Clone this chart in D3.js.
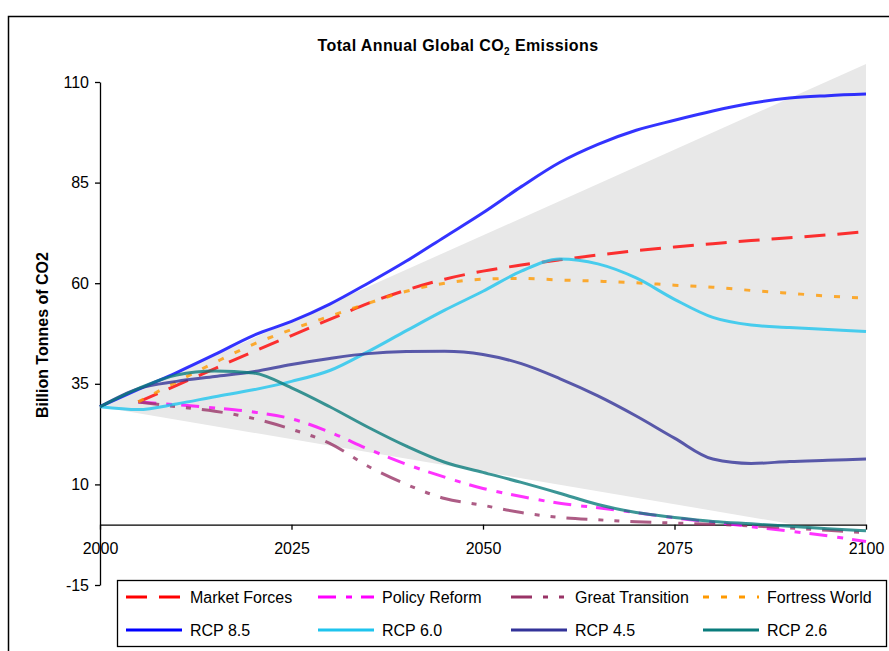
<!DOCTYPE html>
<html>
<head>
<meta charset="utf-8">
<script src="https://cdn.jsdelivr.net/npm/d3@7"></script>
<style>
  body { margin: 0; background: #fff; }
  svg { display: block; font-family: Arial, "Liberation Sans", sans-serif; }
</style>
</head>
<body>
<svg id="chart"></svg>
<script>
// years for the RCP curves and for the scenario curves
let rcpYears = d3.range(2000, 2101, 5);
let scenarioYears = d3.range(2005, 2101, 5);

// RCP pathways (billion tonnes CO2)
let rcp85 = [29.3, 33.6, 37.8, 42.3, 47, 50.5, 54.8, 60, 65.5, 71.5, 77.5, 84, 90, 94.5, 98, 100.5, 102.8, 104.7, 106, 106.6, 107];
let rcp60 = [29.3, 28.6, 30, 31.8, 33.5, 35.6, 38.3, 43, 48.2, 53.3, 58, 63, 66, 64.8, 61.3, 56, 51.5, 49.6, 49, 48.5, 48];
let rcp45 = [29.3, 33.8, 35.6, 36.8, 38, 39.8, 41.3, 42.5, 43, 43.1, 42.3, 40, 36.3, 32, 27, 21.5, 16.3, 15.2, 15.7, 16, 16.3];
let rcp26 = [29.3, 33.8, 37.2, 38.2, 37.7, 34, 29.3, 24.2, 19.5, 15.5, 13, 10.5, 7.8, 5, 3, 1.8, 0.8, 0.2, -0.4, -1, -1.5];

// scenarios
let marketForces = [30.5, 34.6, 38.8, 43, 47, 51, 55, 58.3, 61, 63, 64.5, 65.8, 67, 68.1, 69, 69.8, 70.6, 71.3, 72, 72.8];
let policyReform = [30.5, 29.8, 29, 28, 26.3, 23, 18.8, 15, 11.8, 9, 7, 5.3, 4.2, 3, 1.7, 0.6, -0.5, -1.6, -2.8, -4.2];
let greatTransition = [30.5, 29.3, 28.2, 26.4, 23.7, 20.2, 14.5, 10, 6.5, 4.8, 3, 1.8, 1.2, 0.7, 0.4, 0.1, -0.3, -0.8, -1.4, -2];
let fortressWorld = [30.5, 35.5, 40.3, 44.8, 48.5, 51.8, 55, 58, 60, 61, 61.2, 60.8, 60.5, 60.1, 59.5, 59, 58.2, 57.5, 56.8, 56.3];

// grey uncertainty wedge
let wedgeYears = [2000, 2100];
let wedgeUpper = [29.3, 114.5];
let wedgeLower = [29.3, -3];

let yTicks = [-15, 10, 35, 60, 85, 110];
let xTicks = [2000, 2025, 2050, 2075, 2100];

let width = 889;
let height = 651;

let series = [
  { name: 'Market Forces', years: scenarioYears, values: marketForces, color: '#ff0000', dash: '21,12' },
  { name: 'Policy Reform', years: scenarioYears, values: policyReform, color: '#ff00ff', dash: '18,10,6,9' },
  { name: 'Great Transition', years: scenarioYears, values: greatTransition, color: '#993366', dash: '21,11,5,11,5,11' },
  { name: 'Fortress World', years: scenarioYears, values: fortressWorld, color: '#ff9900', dash: '6,12' },
  { name: 'RCP 8.5', years: rcpYears, values: rcp85, color: '#0000ff', dash: null },
  { name: 'RCP 6.0', years: rcpYears, values: rcp60, color: '#1ec4ee', dash: null },
  { name: 'RCP 4.5', years: rcpYears, values: rcp45, color: '#333399', dash: null },
  { name: 'RCP 2.6', years: rcpYears, values: rcp26, color: '#0a7c7c', dash: null }
];

let svg = d3.select('#chart')
  .attr('width', width)
  .attr('height', height);

svg.append('rect')
  .attr('width', width)
  .attr('height', height)
  .attr('fill', '#fff');

// outer chart border (runs off the right and bottom edges)
svg.append('rect')
  .attr('x', 8.5)
  .attr('y', 16.5)
  .attr('width', 900)
  .attr('height', 700)
  .attr('fill', 'none')
  .attr('stroke', '#000')
  .attr('stroke-width', 1.5);

let xScale = d3.scaleLinear().domain([2000, 2100]).range([100, 866]);
let yScale = d3.scaleLinear().domain([-15, 110]).range([585, 82]);

// wedge: grey area down to the axis, then a white area covering up to the lower bound
let wedge = wedgeYears.map((yr, i) => ({ year: yr, hi: wedgeUpper[i], lo: wedgeLower[i] }));

svg.append('path')
  .datum(wedge)
  .attr('fill', '#e8e8e8')
  .attr('d', d3.area()
    .x(d => xScale(d.year))
    .y0(yScale(0))
    .y1(d => yScale(d.hi)));

svg.append('path')
  .datum(wedge)
  .attr('fill', '#fff')
  .attr('d', d3.area()
    .x(d => xScale(d.year))
    .y0(yScale(0))
    .y1(d => yScale(d.lo)));

// axes
let yAxis = d3.axisLeft(yScale)
  .tickValues(yTicks)
  .tickFormat(d => String(d))
  .tickSize(5)
  .tickSizeOuter(0)
  .tickPadding(6);

let yAxisG = svg.append('g')
  .attr('transform', 'translate(100,0)')
  .call(yAxis);

let xAxis = d3.axisBottom(xScale)
  .tickValues(xTicks)
  .tickFormat(d => String(d))
  .tickSize(5)
  .tickSizeOuter(0)
  .tickPadding(13);

let xAxisG = svg.append('g')
  .attr('transform', 'translate(0,' + yScale(0) + ')')
  .call(xAxis);

[yAxisG, xAxisG].forEach(g => {
  g.attr('font-size', 16).attr('font-family', 'Arial, "Liberation Sans", sans-serif');
  g.selectAll('path, line').attr('stroke', '#000').attr('stroke-width', 1.3);
  g.selectAll('text').attr('fill', '#000');
});

// lines
let line = d3.line()
  .x(d => xScale(d.year))
  .y(d => yScale(d.value))
  .curve(d3.curveMonotoneX);

series.forEach(s => {
  let pts = s.years.map((yr, i) => ({ year: yr, value: s.values[i] }));
  svg.append('path')
    .datum(pts)
    .attr('fill', 'none')
    .attr('stroke', s.color)
    .attr('stroke-opacity', 0.8)
    .attr('stroke-width', 3)
    .attr('stroke-dasharray', s.dash)
    .attr('d', line);
});

// title
let title = svg.append('text')
  .attr('x', 458)
  .attr('y', 51)
  .attr('text-anchor', 'middle')
  .style('font-size', '16px')
  .style('font-weight', 'bold')
  .style('letter-spacing', '0.4px');
title.append('tspan').text('Total Annual Global CO');
title.append('tspan').attr('dy', 4).style('font-size', '10px').text('2');
title.append('tspan').attr('dy', -4).text(' Emissions');

// y axis title
svg.append('text')
  .attr('transform', 'translate(48,335) rotate(-90)')
  .attr('text-anchor', 'middle')
  .style('font-size', '16px')
  .style('font-weight', 'bold')
  .text('Billion Tonnes of CO2');

// legend
let legend = svg.append('g');
legend.append('rect')
  .attr('x', 117.5)
  .attr('y', 580.5)
  .attr('width', 769)
  .attr('height', 66)
  .attr('fill', '#fff')
  .attr('stroke', '#000')
  .attr('stroke-width', 1.3);

let colX = [126, 318, 511, 703];
let rowY = [597, 630];

series.forEach((s, i) => {
  let lx = colX[i % 4];
  let ly = rowY[Math.floor(i / 4)];
  legend.append('line')
    .attr('x1', lx)
    .attr('x2', lx + 56)
    .attr('y1', ly)
    .attr('y2', ly)
    .attr('stroke', s.color)
    .attr('stroke-width', 3)
    .attr('stroke-dasharray', s.dash);
  legend.append('text')
    .attr('x', lx + 64)
    .attr('y', ly + 6)
    .style('font-size', '16px')
    .text(s.name);
});
</script>
</body>
</html>
